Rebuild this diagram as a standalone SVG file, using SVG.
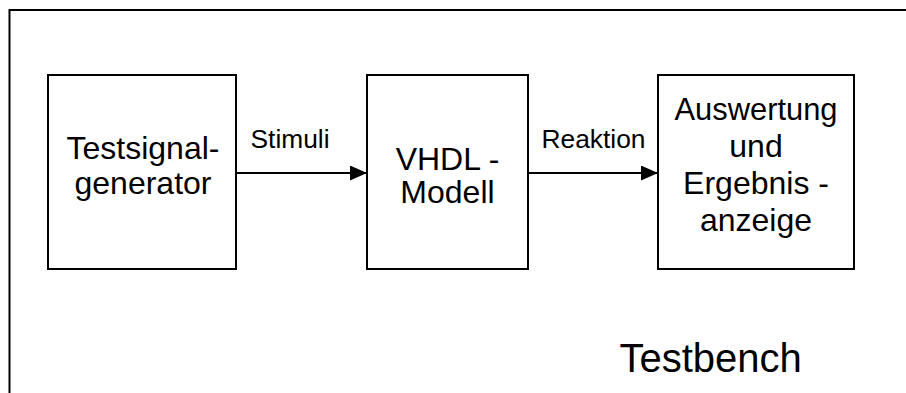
<svg xmlns="http://www.w3.org/2000/svg" width="906" height="393" viewBox="0 0 906 393">
<style>
.frame{fill:none;stroke:#000;stroke-width:2}
.box{fill:#fff;stroke:#000;stroke-width:2}
.conn{stroke:#000;stroke-width:2;fill:none}
.t{font-family:"Liberation Sans",Arial,sans-serif;fill:#000}
.bt{font-size:32px;text-anchor:middle}
.lbl{font-size:25px}
.title{font-size:40px}
</style>
<defs>
<marker id="arr" markerWidth="17" markerHeight="15" refX="17" refY="7.5" orient="auto" markerUnits="userSpaceOnUse">
<path d="M0,0 L17,7.5 L0,15 Z" fill="#000"/>
</marker>
</defs>
<g id="frame">
<path class="frame" d="M9.5,393 L9.5,10 L906,10"/>
</g>
<g id="connectors">
<line class="conn" x1="236" y1="173" x2="367" y2="173" marker-end="url(#arr)"/>
<line class="conn" x1="528" y1="173" x2="658" y2="173" marker-end="url(#arr)"/>
<text class="t lbl" x="250.5" y="148" textLength="79" lengthAdjust="spacingAndGlyphs">Stimuli</text>
<text class="t lbl" x="541.5" y="148" textLength="104" lengthAdjust="spacingAndGlyphs">Reaktion</text>
</g>
<g id="n1">
<rect class="box" x="48" y="75" width="188" height="194"/>
<text class="t bt" x="143" y="159">Testsignal-</text>
<text class="t bt" x="143" y="194">generator</text>
</g>
<g id="n2">
<rect class="box" x="367" y="75" width="161" height="194"/>
<text class="t bt" x="447.5" y="170">VHDL -</text>
<text class="t bt" x="447.5" y="203">Modell</text>
</g>
<g id="n3">
<rect class="box" x="658" y="75" width="196" height="194"/>
<text class="t bt" x="756" y="120" textLength="163" lengthAdjust="spacingAndGlyphs">Auswertung</text>
<text class="t bt" x="756" y="157">und</text>
<text class="t bt" x="756" y="194">Ergebnis -</text>
<text class="t bt" x="756" y="231">anzeige</text>
</g>
<g id="label">
<text class="t title" x="619.5" y="371.5">Testbench</text>
</g>
</svg>
